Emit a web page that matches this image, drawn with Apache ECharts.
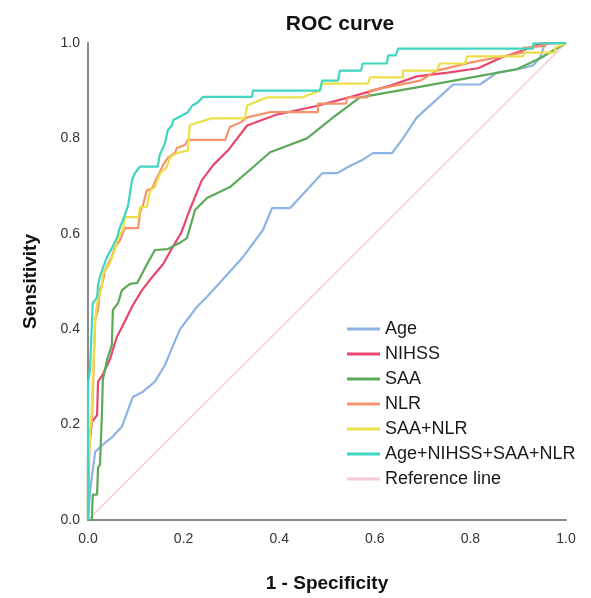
<!DOCTYPE html>
<html>
<head>
<meta charset="utf-8">
<script src="https://cdn.jsdelivr.net/npm/echarts@6/dist/echarts.min.js"></script>
<style>
  html, body { margin: 0; padding: 0; background: #fff; }
  #chart { width: 591px; height: 598px; }
</style>
</head>
<body>
<div id="chart"></div>
<script>
// curve points: [1 - specificity, sensitivity]
var ageCurve = [[0,0],[0.004,0.058],[0.015,0.143],[0.019,0.143],[0.036,0.162],[0.05,0.173],[0.071,0.196],[0.094,0.258],[0.115,0.269],[0.14,0.29],[0.161,0.325],[0.176,0.361],[0.192,0.399],[0.228,0.447],[0.249,0.468],[0.324,0.551],[0.366,0.608],[0.385,0.654],[0.423,0.654],[0.49,0.727],[0.521,0.727],[0.548,0.742],[0.573,0.754],[0.596,0.769],[0.636,0.769],[0.659,0.8],[0.688,0.844],[0.72,0.873],[0.764,0.913],[0.82,0.913],[0.856,0.938],[0.91,0.947],[0.931,0.953],[0.946,0.97],[0.956,0.999],[1,1]];
var nihssCurve = [[0,0],[0,0.13],[0.008,0.205],[0.019,0.22],[0.021,0.29],[0.031,0.305],[0.046,0.337],[0.06,0.383],[0.071,0.404],[0.092,0.447],[0.113,0.482],[0.134,0.509],[0.157,0.536],[0.178,0.574],[0.195,0.602],[0.21,0.643],[0.238,0.712],[0.262,0.744],[0.293,0.775],[0.333,0.827],[0.395,0.85],[0.478,0.868],[0.55,0.887],[0.63,0.91],[0.688,0.93],[0.753,0.938],[0.816,0.947],[0.864,0.969],[0.914,0.986],[0.947,0.999],[1,1]];
var saaCurve = [[0,0],[0.008,0],[0.01,0.053],[0.019,0.053],[0.021,0.11],[0.025,0.116],[0.029,0.217],[0.031,0.294],[0.04,0.336],[0.05,0.367],[0.052,0.44],[0.063,0.455],[0.071,0.482],[0.088,0.495],[0.103,0.497],[0.119,0.528],[0.14,0.566],[0.167,0.568],[0.195,0.583],[0.207,0.591],[0.224,0.65],[0.249,0.675],[0.297,0.698],[0.333,0.729],[0.381,0.771],[0.458,0.8],[0.513,0.844],[0.569,0.886],[0.688,0.907],[0.826,0.932],[0.897,0.945],[0.946,0.968],[1,1]];
var nlrCurve = [[0,0],[0.002,0.106],[0.004,0.189],[0.008,0.2],[0.01,0.263],[0.015,0.42],[0.021,0.441],[0.025,0.483],[0.031,0.5],[0.036,0.525],[0.05,0.552],[0.056,0.571],[0.067,0.587],[0.077,0.612],[0.105,0.612],[0.109,0.645],[0.115,0.66],[0.123,0.691],[0.134,0.695],[0.144,0.717],[0.157,0.744],[0.167,0.759],[0.182,0.77],[0.186,0.78],[0.203,0.786],[0.209,0.797],[0.287,0.797],[0.297,0.824],[0.322,0.835],[0.333,0.844],[0.381,0.855],[0.481,0.855],[0.481,0.873],[0.54,0.873],[0.542,0.886],[0.584,0.886],[0.59,0.9],[0.695,0.921],[0.73,0.942],[0.799,0.959],[0.91,0.98],[0.91,0.99],[0.956,0.994],[0.962,1],[1,1]];
var saaNlrCurve = [[0,0],[0,0.105],[0.004,0.175],[0.008,0.231],[0.01,0.294],[0.015,0.42],[0.019,0.455],[0.029,0.489],[0.031,0.514],[0.046,0.539],[0.056,0.566],[0.063,0.593],[0.073,0.608],[0.077,0.635],[0.105,0.635],[0.109,0.656],[0.123,0.656],[0.13,0.691],[0.14,0.698],[0.151,0.727],[0.165,0.74],[0.172,0.761],[0.186,0.769],[0.209,0.775],[0.213,0.828],[0.259,0.842],[0.328,0.842],[0.333,0.869],[0.374,0.886],[0.448,0.886],[0.485,0.9],[0.49,0.915],[0.586,0.915],[0.59,0.928],[0.659,0.928],[0.659,0.942],[0.73,0.942],[0.736,0.957],[0.789,0.957],[0.793,0.972],[0.91,0.972],[0.914,0.98],[0.977,0.98],[0.977,0.99],[1,1]];
var comboCurve = [[0,0],[0,0.287],[0.004,0.314],[0.008,0.318],[0.01,0.455],[0.015,0.461],[0.019,0.467],[0.021,0.493],[0.025,0.51],[0.031,0.528],[0.04,0.552],[0.05,0.57],[0.061,0.593],[0.067,0.614],[0.077,0.639],[0.084,0.66],[0.088,0.685],[0.092,0.712],[0.098,0.727],[0.109,0.741],[0.146,0.741],[0.15,0.765],[0.161,0.79],[0.167,0.817],[0.176,0.828],[0.178,0.838],[0.209,0.855],[0.218,0.869],[0.228,0.874],[0.241,0.887],[0.343,0.887],[0.345,0.9],[0.485,0.9],[0.49,0.921],[0.523,0.921],[0.527,0.942],[0.571,0.942],[0.575,0.957],[0.625,0.957],[0.628,0.974],[0.644,0.974],[0.649,0.988],[0.931,0.988],[0.931,0.999],[1,1]];
var referenceLine = [[0,0],[1,1]];

var seriesNames = ['Age', 'NIHSS', 'SAA', 'NLR', 'SAA+NLR', 'Age+NIHSS+SAA+NLR', 'Reference line'];
var seriesData = [ageCurve, nihssCurve, saaCurve, nlrCurve, saaNlrCurve, comboCurve, referenceLine];
var seriesColors = ['#8db4e4', '#e8476e', '#5da95a', '#f5946c', '#ece04a', '#3fd5c0', '#f8cad6'];
var tickLabels = ['0.0', '0.2', '0.4', '0.6', '0.8', '1.0'];

var chart = echarts.init(document.getElementById('chart'), null, { renderer: 'canvas' });

// reference line drawn first so it stays behind
var drawOrder = [6, 0, 1, 2, 3, 4, 5];
var series = drawOrder.map(function (i) {
    return {
        name: seriesNames[i],
        type: 'line',
        data: seriesData[i],
        symbol: 'none',
        color: seriesColors[i],
        lineStyle: { width: i === 6 ? 1.5 : 2.2, color: seriesColors[i] },
        z: i === 6 ? 1 : 2 + i
    };
});

function tickFmt(v) {
    var idx = Math.round(v / 0.2);
    return tickLabels[idx] || '';
}

var option = {
    animation: false,
    backgroundColor: '#fff',
    title: {
        text: 'ROC curve',
        left: 335,
        top: 9,
        textAlign: 'center',
        textStyle: { fontFamily: 'Liberation Sans', fontSize: 21, fontWeight: 'bold', color: '#111' }
    },
    legend: {
        data: seriesNames.map(function (n) { return { name: n, icon: 'rect' }; }),
        orient: 'vertical',
        left: 342,
        top: 315,
        itemWidth: 33,
        itemHeight: 3,
        itemGap: 7,
        textStyle: { fontFamily: 'Liberation Sans', fontSize: 18, color: '#1a1a1a', lineHeight: 18 }
    },
    grid: { left: 88, right: 25, top: 43, bottom: 78 },
    xAxis: {
        type: 'value',
        min: 0, max: 1, interval: 0.2,
        name: '1 - Specificity',
        nameLocation: 'middle',
        nameGap: 54,
        nameTextStyle: { fontFamily: 'Liberation Sans', fontSize: 19, fontWeight: 'bold', color: '#111' },
        axisLine: { show: true, onZero: false, lineStyle: { color: '#8a8a8a', width: 2 } },
        axisTick: { show: false },
        splitLine: { show: false },
        axisLabel: { formatter: tickFmt, margin: 12, fontFamily: 'Liberation Sans', fontSize: 14, color: '#333' }
    },
    yAxis: {
        type: 'value',
        min: 0, max: 1, interval: 0.2,
        name: 'Sensitivity',
        nameLocation: 'middle',
        nameGap: 48,
        nameTextStyle: { fontFamily: 'Liberation Sans', fontSize: 19, fontWeight: 'bold', color: '#111' },
        axisLine: { show: true, onZero: false, lineStyle: { color: '#8a8a8a', width: 2 } },
        axisTick: { show: false },
        splitLine: { show: false },
        axisLabel: { formatter: tickFmt, margin: 8, fontFamily: 'Liberation Sans', fontSize: 14, color: '#333' }
    },
    series: series
};

chart.setOption(option);
</script>
</body>
</html>
